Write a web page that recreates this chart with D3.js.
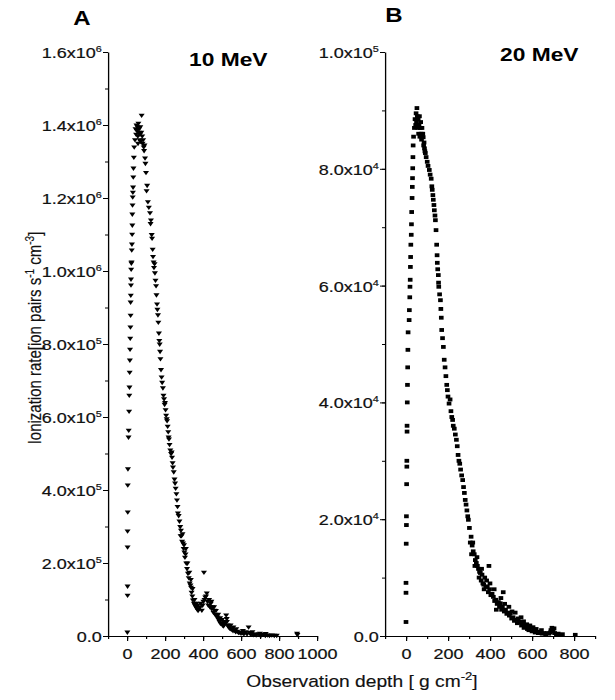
<!DOCTYPE html>
<html>
<head>
<meta charset="utf-8">
<script src="https://cdn.jsdelivr.net/npm/d3@7"></script>
<style>
  body { margin: 0; background: #fff; }
  svg { display: block; font-family: "Liberation Sans", Arial, sans-serif; }
</style>
</head>
<body>
<svg id="chart" width="615" height="700"></svg>
<script>
// [depth g/cm2, ionization rate]
const seriesA = [
  [2, 0.11e5], [3, 1.12e5], [3, 1.37e5], [3, 2.44e5], [3, 2.88e5], [4, 3.40e5], [4, 4.14e5], [5, 4.58e5],
  [8, 5.45e5], [9, 5.64e5], [11, 6.16e5], [12, 6.60e5], [13, 6.82e5], [14, 7.23e5], [15, 7.56e5], [16, 7.86e5],
  [17, 8.16e5], [18, 8.47e5], [19, 8.79e5], [19, 9.15e5], [20, 9.34e5], [21, 9.62e5], [21, 9.78e5], [22, 10.05e5],
  [23, 10.22e5], [24, 10.25e5], [25, 10.58e5], [26, 10.74e5], [27, 11.01e5], [28, 11.26e5], [28, 11.56e5],
  [29, 11.81e5], [30, 12.03e5], [31, 12.16e5], [32, 12.30e5], [33, 12.58e5], [34, 12.82e5], [36, 13.12e5], [38, 13.4e5],
  [42, 13.6e5], [45, 13.9e5], [48, 13.75e5], [50, 14.0e5], [52, 13.85e5], [55, 13.95e5], [57, 13.7e5], [58, 13.5e5],
  [60, 14.05e5], [62, 13.8e5], [64, 13.9e5], [66, 13.6e5], [68, 13.75e5], [70, 13.95e5], [72, 13.55e5], [75, 13.8e5],
  [77, 14.27e5], [80, 13.7e5], [82, 13.5e5], [85, 13.6e5], [88, 13.4e5], [90, 13.3e5], [92, 13.45e5], [95, 13.1e5],
  [97, 12.95e5], [100, 12.7e5], [103, 12.2e5], [106, 12.35e5], [110, 11.9e5], [115, 11.75e5], [121, 11.6e5],
  [124, 11.3e5], [126, 11.4e5], [130, 11.0e5], [132, 10.9e5], [135, 10.6e5], [137, 10.4e5], [140, 10.25e5],
  [142, 10.1e5], [145, 10.2e5], [147, 9.95e5], [150, 9.75e5], [153, 9.6e5], [155, 9.35e5], [158, 9.1e5],
  [160, 8.95e5], [163, 8.8e5], [165, 8.6e5], [168, 8.3e5], [170, 8.1e5], [172, 8.0e5], [174, 7.8e5], [176, 7.6e5],
  [179, 7.3e5], [182, 7.1e5], [185, 6.95e5], [189, 6.8e5], [192, 6.6e5], [195, 6.5e5], [198, 6.35e5], [200, 6.4e5],
  [203, 6.2e5], [206, 6.05e5], [209, 5.95e5], [211, 5.9e5], [214, 5.75e5], [217, 5.6e5], [219, 5.45e5], [221, 5.4e5],
  [224, 5.25e5], [228, 5.1e5], [232, 5.0e5], [235, 5.04e5], [237, 4.9e5], [240, 4.75e5], [242, 4.63e5], [246, 4.5e5],
  [250, 4.3e5], [253, 4.19e5], [256, 4.05e5], [260, 3.9e5], [263, 3.73e5], [266, 3.55e5], [268, 3.37e5], [272, 3.3e5],
  [276, 3.15e5], [280, 3.0e5], [282, 2.75e5], [284, 2.9e5], [287, 2.75e5], [290, 2.6e5], [292, 2.8e5], [295, 2.55e5],
  [298, 2.4e5], [300, 2.5e5], [302, 2.3e5], [305, 2.16e5], [308, 2.25e5], [310, 2.4e5], [312, 2.0e5], [316, 1.85e5],
  [318, 2.0e5], [321, 1.72e5], [325, 1.6e5], [328, 1.75e5], [330, 1.45e5], [334, 1.4e5], [336, 1.55e5],
  [337, 1.34e5], [340, 1.2e5], [344, 1.1e5], [345, 1.3e5], [347, 0.99e5], [352, 0.9e5], [355, 1.0e5], [357, 0.85e5],
  [362, 0.8e5], [365, 0.9e5], [368, 0.75e5], [372, 0.85e5], [374, 0.7e5], [379, 0.75e5], [384, 0.8e5], [388, 0.9e5],
  [394, 0.71e5], [398, 0.85e5], [402, 0.95e5], [405, 1.75e5], [408, 1.0e5], [412, 1.07e5], [416, 1.1e5],
  [420, 1.18e5], [424, 0.95e5], [428, 0.85e5], [432, 1.0e5], [437, 0.8e5], [441, 0.9e5], [444, 0.95e5],
  [446, 0.75e5], [450, 0.8e5], [455, 0.65e5], [458, 0.8e5], [460, 0.71e5], [465, 0.6e5], [468, 0.7e5], [470, 0.55e5],
  [476, 0.52e5], [480, 0.6e5], [482, 0.45e5], [487, 0.4e5], [490, 0.5e5], [492, 0.35e5], [497, 0.36e5], [500, 0.45e5],
  [503, 0.3e5], [508, 0.28e5], [510, 0.4e5], [513, 0.32e5], [518, 0.38e5], [522, 0.58e5], [525, 0.48e5], [526, 0.4e5],
  [530, 0.3e5], [535, 0.25e5], [540, 0.22e5], [545, 0.3e5], [546, 0.2e5], [552, 0.18e5], [558, 0.15e5], [560, 0.25e5],
  [566, 0.16e5], [572, 0.12e5], [575, 0.2e5], [580, 0.13e5], [587, 0.1e5], [593, 0.11e5], [600, 0.08e5],
  [607, 0.1e5], [610, 0.15e5], [613, 0.07e5], [619, 0.08e5], [626, 0.12e5], [632, 0.06e5], [640, 0.25e5],
  [645, 0.1e5], [651, 0.05e5], [658, 0.06e5], [660, 0.12e5], [665, 0.04e5], [672, 0.05e5], [680, 0.03e5],
  [690, 0.06e5], [698, 0.04e5], [700, 0.08e5], [708, 0.03e5], [718, 0.05e5], [728, 0.02e5], [730, 0.07e5],
  [740, 0.03e5], [750, 0.02e5], [762, 0.03e5], [775, 0.02e5], [788, 0.02e5], [895, 0.08e5], [897, 0.04e5]
];

// [depth g/cm2, ionization rate]
const seriesB = [
  [0, 0.24e4], [0, 0.74e4], [0, 0.91e4], [1, 1.58e4], [2, 1.9e4], [2, 2.05e4], [3, 2.6e4], [4, 2.9e4], [4, 3.0e4],
  [5, 3.5e4], [5, 3.6e4], [6, 4.0e4], [7, 4.3e4], [8, 4.6e4], [9, 4.9e4], [10, 5.2e4], [15, 5.41e4], [16, 5.58e4],
  [18, 5.8e4], [19, 5.98e4], [20, 6.1e4], [21, 6.32e4], [22, 6.49e4], [23, 6.7e4], [25, 6.87e4], [26, 7.05e4],
  [27, 7.26e4], [29, 7.5e4], [30, 7.69e4], [31, 7.84e4], [32, 8.01e4], [33, 8.2e4], [34, 8.4e4], [36, 8.55e4],
  [40, 8.7e4], [43, 8.85e4], [46, 8.75e4], [48, 8.95e4], [50, 8.8e4], [52, 9.04e4], [54, 8.9e4], [56, 8.7e4],
  [58, 8.85e4], [60, 8.6e4], [62, 8.75e4], [64, 8.9e4], [66, 8.55e4], [68, 8.7e4], [70, 8.8e4], [72, 8.6e4],
  [74, 8.5e4], [76, 8.7e4], [78, 8.55e4], [80, 8.6e4], [82, 8.54e4], [84, 8.4e4], [86, 8.45e4], [88, 8.35e4],
  [90, 8.3e4], [92, 8.27e4], [96, 8.2e4], [101, 8.12e4], [105, 8.05e4], [111, 7.98e4], [115, 7.9e4], [120, 7.83e4],
  [123, 7.7e4], [125, 7.64e4], [128, 7.55e4], [130, 7.47e4], [133, 7.38e4], [135, 7.29e4], [138, 7.2e4],
  [140, 7.12e4], [143, 6.95e4], [146, 6.7e4], [148, 6.52e4], [149, 6.39e4], [151, 6.28e4], [154, 6.18e4],
  [155, 6.05e4], [156, 5.98e4], [160, 5.85e4], [164, 5.75e4], [166, 5.6e4], [168, 5.45e4], [170, 5.24e4],
  [174, 5.1e4], [178, 4.95e4], [182, 4.73e4], [186, 4.6e4], [190, 4.45e4], [194, 4.3e4], [197, 4.21e4], [200, 4.1e4],
  [205, 3.98e4], [210, 4.05e4], [214, 3.85e4], [218, 3.75e4], [222, 3.7e4], [225, 3.6e4], [230, 3.55e4],
  [235, 3.45e4], [240, 3.36e4], [244, 3.25e4], [248, 3.1e4], [252, 3.0e4], [256, 2.95e4], [260, 2.85e4],
  [265, 2.75e4], [270, 2.67e4], [274, 2.55e4], [278, 2.45e4], [282, 2.33e4], [286, 2.25e4], [290, 2.15e4],
  [294, 2.05e4], [297, 1.99e4], [302, 1.85e4], [306, 1.6e4], [310, 1.7e4], [312, 1.4e4], [315, 1.55e4],
  [318, 1.6e4], [320, 1.45e4], [325, 1.4e4], [328, 1.2e4], [330, 1.3e4], [335, 1.25e4], [338, 1.35e4], [340, 1.2e4],
  [345, 1.15e4], [348, 1.0e4], [350, 1.1e4], [354, 1.08e4], [358, 0.95e4], [360, 1.15e4], [362, 1.05e4], [366, 0.9e4],
  [370, 0.88e4], [372, 0.8e4], [375, 1.0e4], [380, 0.85e4], [384, 0.95e4], [387, 0.84e4], [392, 0.75e4],
  [395, 1.2e4], [398, 0.8e4], [400, 0.9e4], [404, 0.7e4], [410, 0.72e4], [416, 0.67e4], [420, 0.8e4], [422, 0.6e4],
  [428, 0.62e4], [430, 0.45e4], [434, 0.55e4], [440, 0.58e4], [445, 0.5e4], [449, 0.56e4], [452, 0.65e4],
  [455, 0.45e4], [459, 0.5e4], [463, 0.75e4], [468, 0.42e4], [470, 0.55e4], [474, 0.45e4], [480, 0.38e4],
  [486, 0.4e4], [490, 0.5e4], [492, 0.35e4], [497, 0.39e4], [503, 0.3e4], [505, 0.42e4], [510, 0.32e4],
  [516, 0.26e4], [520, 0.4e4], [522, 0.28e4], [530, 0.22e4], [535, 0.3e4], [537, 0.24e4], [544, 0.24e4],
  [548, 0.32e4], [550, 0.18e4], [556, 0.2e4], [560, 0.25e4], [562, 0.14e4], [570, 0.16e4], [575, 0.2e4],
  [578, 0.12e4], [585, 0.1e4], [590, 0.18e4], [592, 0.14e4], [600, 0.08e4], [605, 0.15e4], [608, 0.1e4],
  [615, 0.06e4], [620, 0.12e4], [622, 0.07e4], [630, 0.05e4], [640, 0.07e4], [645, 0.1e4], [648, 0.04e4],
  [656, 0.05e4], [665, 0.03e4], [672, 0.05e4], [680, 0.04e4], [687, 0.06e4], [690, 0.1e4], [695, 0.14e4],
  [700, 0.08e4], [705, 0.13e4], [708, 0.05e4], [716, 0.03e4], [725, 0.04e4], [735, 0.02e4], [745, 0.03e4], [806, 0.02e4]
];

const xTicksA = [0, 200, 400, 600, 800, 1000];
const yTicksA = [0, 2e5, 4e5, 6e5, 8e5, 1e6, 1.2e6, 1.4e6, 1.6e6];
const xTicksB = [0, 200, 400, 600, 800];
const yTicksB = [0, 2e4, 4e4, 6e4, 8e4, 1e5];

// original figure is stretched horizontally; draw in narrow space and scale x
const sx = 1.2;
const svg = d3.select("#chart");
const root = svg.append("g").attr("transform", `scale(${sx},1)`);

const plotTop = 52, plotBottom = 636;

const panels = [
  {
    data: seriesA, letter: "A", title: "10 MeV", symbol: d3.symbolTriangle, size: 11, flip: true,
    xDomain: [-100, 1000], xRange: [108, 317], yMax: 1.6e6,
    xTicks: xTicksA, yTicks: yTicksA, xMinor: 100, yMinor: 1e5,
    letterPos: [82, 25], titlePos: [189, 66]
  },
  {
    data: seriesB, letter: "B", title: "20 MeV", symbol: d3.symbolSquare, size: 15, flip: false,
    xDomain: [-100, 900], xRange: [385, 595], yMax: 1e5,
    xTicks: xTicksB, yTicks: yTicksB, xMinor: 100, yMinor: 1e4,
    letterPos: [394, 22], titlePos: [500, 61]
  }
];

function sciLabel(sel) {
  sel.each(function (d) {
    const t = d3.select(this).text(null);
    if (d === 0) { t.text("0.0"); return; }
    const e = Math.floor(Math.log10(d) + 1e-9);
    const m = (d / Math.pow(10, e)).toFixed(1);
    t.append("tspan").text(m + "x10");
    t.append("tspan").attr("dy", -6).attr("font-size", 9).text(e);
  });
}

panels.forEach((p) => {
  const x = d3.scaleLinear().domain(p.xDomain).range(p.xRange.map((v) => v / sx));
  const y = d3.scaleLinear().domain([0, p.yMax]).range([plotBottom, plotTop]);
  const g = root.append("g");

  const xMinorVals = d3.range(p.xDomain[0], p.xDomain[1] + 1, p.xMinor);
  const yMinorVals = d3.range(0, p.yMax + p.yMinor / 2, p.yMinor);

  g.append("g").attr("transform", `translate(0,${plotBottom})`)
    .call(d3.axisBottom(x).tickValues(xMinorVals).tickSize(3).tickSizeOuter(0).tickFormat(""))
    .call((a) => a.select(".domain").remove());
  g.append("g").attr("transform", `translate(${x.range()[0]},0)`)
    .call(d3.axisLeft(y).tickValues(yMinorVals).tickSize(3 / sx).tickSizeOuter(0).tickFormat(""))
    .call((a) => a.select(".domain").remove());

  const xAxis = g.append("g").attr("transform", `translate(0,${plotBottom})`)
    .call(d3.axisBottom(x).tickValues(p.xTicks).tickSize(5).tickSizeOuter(0).tickPadding(7).tickFormat(d3.format("d")));
  const yAxis = g.append("g").attr("transform", `translate(${x.range()[0]},0)`)
    .call(d3.axisLeft(y).tickValues(p.yTicks).tickSize(5 / sx).tickSizeOuter(0).tickPadding(1));

  yAxis.selectAll(".tick text").call(sciLabel).attr("dy", "0.36em");
  [xAxis, yAxis].forEach((a) => {
    a.attr("font-family", null).attr("font-size", 15).attr("color", "#000");
    a.select(".domain").attr("stroke-width", 1.1);
  });
  g.selectAll(".tick text").attr("fill", "#111").attr("stroke", "#111").attr("stroke-width", 0.2);
  g.selectAll(".tick line").attr("stroke", "#000").attr("stroke-width", 1);

  const sym = d3.symbol().type(p.symbol).size(p.size);
  g.append("g").selectAll("path").data(p.data).join("path")
    .attr("d", sym)
    .attr("fill", "#000")
    .attr("transform", (d) => `translate(${x(d[0])},${y(d[1])})` + (p.flip ? " rotate(180)" : ""));

  root.append("text")
    .attr("x", p.letterPos[0] / sx).attr("y", p.letterPos[1])
    .attr("text-anchor", "middle").attr("font-weight", "bold").attr("font-size", 20)
    .text(p.letter);
  root.append("text")
    .attr("x", p.titlePos[0] / sx).attr("y", p.titlePos[1])
    .attr("font-weight", "bold").attr("font-size", 19)
    .text(p.title);
});

const yLab = root.append("text")
  .attr("transform", `translate(${41 / sx},338) rotate(-90)`)
  .attr("text-anchor", "middle").attr("font-size", 15)
  .attr("fill", "#111").attr("stroke", "#111").attr("stroke-width", 0.15);
yLab.append("tspan").text("Ionization  rate[ion pairs s");
yLab.append("tspan").attr("dy", -6).attr("font-size", 10).text("-1");
yLab.append("tspan").attr("dy", 6).text(" cm");
yLab.append("tspan").attr("dy", -6).attr("font-size", 10).text("-3");
yLab.append("tspan").attr("dy", 6).text("]");

const xLab = root.append("text")
  .attr("x", 362 / sx).attr("y", 687)
  .attr("text-anchor", "middle").attr("font-size", 16)
  .attr("fill", "#111").attr("stroke", "#111").attr("stroke-width", 0.15);
xLab.append("tspan").text("Observation depth [ g cm");
xLab.append("tspan").attr("dy", -7).attr("font-size", 11).text("-2");
xLab.append("tspan").attr("dy", 7).text("]");
</script>
</body>
</html>
